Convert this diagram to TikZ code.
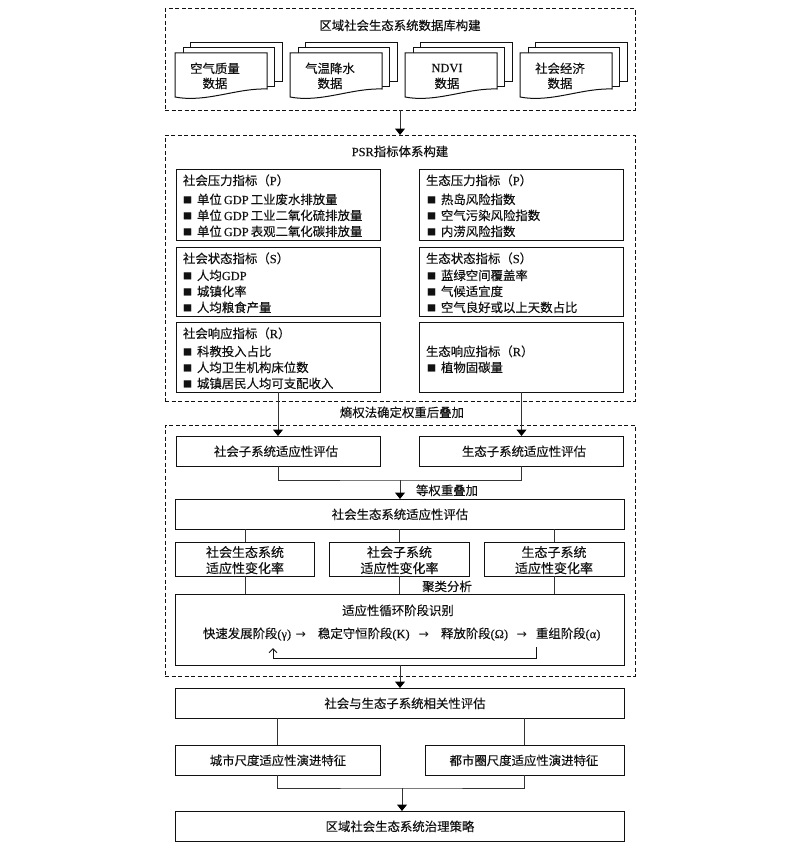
\documentclass[tikz,border=0pt]{standalone}
\usepackage{fontspec}
\setmainfont{Noto Sans CJK SC}[FakeBold=0.2]
\newfontfamily\lat{Liberation Serif}[FakeBold=0.2]
\newfontfamily\arw{DejaVu Sans}
\usetikzlibrary{arrows.meta}
\definecolor{ink}{HTML}{111111}
\definecolor{wire}{HTML}{333333}
\tikzset{
  x=1pt,y=-1pt,
  dashbox/.style={draw=ink,line width=1pt,dash pattern=on 4pt off 2.5pt,inner sep=0pt,outer sep=0pt},
  solidbox/.style={draw=ink,line width=1pt,fill=white,inner sep=0pt,outer sep=0pt},
  txt/.style={inner sep=0pt,outer sep=0pt,text=ink,text height=10.3pt,text depth=2.1pt,font=\fontsize{12.4}{14}\selectfont},
  widetxt/.style={txt,font=\fontsize{13}{14}\selectfont},
  wireline/.style={draw=wire,line width=1pt},
  wirearrow/.style={draw=wire,line width=1pt,-{Triangle[length=6.5pt,width=10pt,color=black]}},
  docpage/.style={draw=ink,line width=1pt,fill=white},
}
\newcommand{\gdp}{{\lat\,GDP\,}}
\newcommand{\sq}{\makebox[14pt][l]{\raisebox{0.8pt}{\fontsize{9}{9}\selectfont ■}}}
\newcommand{\docstack}[1]{%
  \begin{scope}[xshift=#1pt]
    \draw[docpage] (190,81) -- (190,43) -- (282,43) -- (282,81) -- cycle;
    \draw[docpage] (183,86) -- (183,48) -- (274,48) -- (274,86) -- cycle;
    \draw[docpage] (175,97) -- (175,53) -- (267,53) -- (267,89) .. controls (236,88) and (206,103) .. (175,97) -- cycle;
  \end{scope}}
\begin{document}
\begin{tikzpicture}
\fill[white] (0,0) rectangle (800,851);
\useasboundingbox (0,0) rectangle (800,851);

% --- database block
\node[dashbox,minimum width=470pt,minimum height=101pt] (db) at (400,59.5) {};
\node[txt] (dbt) at (400,26) {区域社会生态系统数据库构建};
\docstack{0}\docstack{115}\docstack{230}\docstack{345}
\node[txt] (d1a) at (215,69) {空气质量};
\node[txt] (d1b) at (215,84) {数据};
\node[txt] (d2a) at (330,69) {气温降水};
\node[txt] (d2b) at (330,84) {数据};
\node[txt] (d3a) at (447,68) {\lat NDVI};
\node[txt] (d3b) at (447,84) {数据};
\node[txt] (d4a) at (560,69) {社会经济};
\node[txt] (d4b) at (560,84) {数据};

% --- PSR block
\node[dashbox,minimum width=470pt,minimum height=266pt] (psr) at (400,268) {};
\node[txt] (psrt) at (400,152) {{\lat PSR}指标体系构建};

\node[solidbox,minimum width=204pt,minimum height=71pt] (sp) at (278,205) {};
\node[solidbox,minimum width=204pt,minimum height=71pt] (ep) at (521.5,205) {};
\node[solidbox,minimum width=204pt,minimum height=69pt] (ss) at (278,281.5) {};
\node[solidbox,minimum width=204pt,minimum height=69pt] (es) at (521.5,281.5) {};
\node[solidbox,minimum width=204pt,minimum height=70pt] (sr) at (278,357) {};
\node[solidbox,minimum width=204pt,minimum height=70pt] (er) at (521.5,357) {};

\node[txt,anchor=west] (sp0) at (183,181) {社会压力指标（{\lat P}）};
\node[txt,anchor=west] (sp1) at (183,200) {\sq 单位\gdp 工业废水排放量};
\node[txt,anchor=west] (sp2) at (183,216) {\sq 单位\gdp 工业二氧化硫排放量};
\node[txt,anchor=west] (sp3) at (183,232) {\sq 单位\gdp 表观二氧化碳排放量};

\node[txt,anchor=west] (ss0) at (183,259) {社会状态指标（{\lat S}）};
\node[txt,anchor=west] (ss1) at (183,276) {\sq 人均{\lat GDP}};
\node[txt,anchor=west] (ss2) at (183,292) {\sq 城镇化率};
\node[txt,anchor=west] (ss3) at (183,308) {\sq 人均粮食产量};

\node[txt,anchor=west] (sr0) at (183,334) {社会响应指标（{\lat R}）};
\node[txt,anchor=west] (sr1) at (183,352) {\sq 科教投入占比};
\node[txt,anchor=west] (sr2) at (183,368) {\sq 人均卫生机构床位数};
\node[txt,anchor=west] (sr3) at (183,384) {\sq 城镇居民人均可支配收入};

\node[txt,anchor=west] (ep0) at (426,181) {生态压力指标（{\lat P}）};
\node[txt,anchor=west] (ep1) at (427,200) {\sq 热岛风险指数};
\node[txt,anchor=west] (ep2) at (427,216) {\sq 空气污染风险指数};
\node[txt,anchor=west] (ep3) at (427,232) {\sq 内涝风险指数};

\node[txt,anchor=west] (es0) at (426,259) {生态状态指标（{\lat S}）};
\node[txt,anchor=west] (es1) at (427,276) {\sq 蓝绿空间覆盖率};
\node[txt,anchor=west] (es2) at (427,292) {\sq 气候适宜度};
\node[txt,anchor=west] (es3) at (427,308) {\sq 空气良好或以上天数占比};

\node[txt,anchor=west] (er0) at (426,352) {生态响应指标（{\lat R}）};
\node[txt,anchor=west] (er1) at (427,368) {\sq 植物固碳量};

% --- evaluation block
\node[txt] (w1) at (402,413) {熵权法确定权重后叠加};
\node[dashbox,minimum width=470pt,minimum height=251pt] (ev) at (400,550.5) {};
\node[solidbox,minimum width=204pt,minimum height=30pt] (sa) at (278,451) {};
\node[solidbox,minimum width=204pt,minimum height=30pt] (ea) at (521.5,451) {};
\node[txt] (sat) at (276,452) {社会子系统适应性评估};
\node[txt] (eat) at (524,452) {生态子系统适应性评估};
\coordinate (j1) at (400,480);
\node[txt] (w2) at (447,491) {等权重叠加};
\node[solidbox,minimum width=449pt,minimum height=30pt] (all) at (400,514) {};
\node[txt] (allt) at (400,515) {社会生态系统适应性评估};

\node[solidbox,minimum width=139pt,minimum height=34pt] (r1) at (245,559) {};
\node[solidbox,minimum width=140pt,minimum height=34pt] (r2) at (399.5,559) {};
\node[solidbox,minimum width=140pt,minimum height=34pt] (r3) at (554,559) {};
\node[widetxt] (r1a) at (245,553) {社会生态系统};
\node[widetxt] (r1b) at (245,569) {适应性变化率};
\node[widetxt] (r2a) at (399.5,553) {社会子系统};
\node[widetxt] (r2b) at (399.5,569) {适应性变化率};
\node[widetxt] (r3a) at (554,553) {生态子系统};
\node[widetxt] (r3b) at (554,569) {适应性变化率};

\node[txt] (w3) at (447,587) {聚类分析};
\node[solidbox,minimum width=449pt,minimum height=71pt] (cy) at (400,629.5) {};
\node[txt] (cyt) at (398,611) {适应性循环阶段识别};
\node[txt,anchor=west] (c1) at (203,634) {快速发展阶段{\lat(γ)}};
\node[txt,anchor=west] (a1) at (295.5,634) {\arw →};
\node[txt,anchor=west] (c2) at (318,634) {稳定守恒阶段{\lat(K)}};
\node[txt,anchor=west] (a2) at (418.5,634) {\arw →};
\node[txt,anchor=west] (c3) at (441,634) {释放阶段{\lat(Ω)}};
\node[txt,anchor=west] (a3) at (516.5,634) {\arw →};
\node[txt,anchor=west] (c4) at (536,634) {重组阶段{\lat(α)}};
\coordinate (ret1) at (536,647);
\coordinate (ret2) at (273,648);
\draw[draw=ink,line width=1pt,-{Straight Barb[length=4pt,width=8pt]}] (ret1) -- (536,658) -- (273,658) -- (ret2);

% --- lower stack
\node[solidbox,minimum width=449pt,minimum height=30pt] (cor) at (400,703) {};
\node[txt] (cort) at (405,704) {社会与生态子系统相关性评估};
\node[solidbox,minimum width=205pt,minimum height=30pt] (ci) at (277.5,760) {};
\node[solidbox,minimum width=199pt,minimum height=30pt] (mt) at (524.5,760) {};
\node[txt] (cit) at (278,761) {城市尺度适应性演进特征};
\node[txt] (mtt) at (524,761) {都市圈尺度适应性演进特征};
\coordinate (j2) at (402,788);
\node[solidbox,minimum width=449pt,minimum height=30pt] (gov) at (400,826) {};
\node[txt] (govt) at (400,827) {区域社会生态系统治理策略};

% --- connectors
\draw[wirearrow] (db.south) -- (psr.north);
\draw[wirearrow] (sr.south) -- (sa.north);
\draw[wirearrow] (er.south) -- (ea.north);
\draw[wireline] (sa.south) |- (j1) -| (ea.south);
\draw[wirearrow] (j1) -- (all.north);
\draw[wireline] (all.south -| r1.north) -- (r1.north);
\draw[wireline] (all.south -| r2.north) -- (r2.north);
\draw[wireline] (all.south -| r3.north) -- (r3.north);
\draw[wireline] (r1.south) -- (cy.north -| r1.south);
\draw[wireline] (r2.south) -- (cy.north -| r2.south);
\draw[wireline] (r3.south) -- (cy.north -| r3.south);
\draw[wirearrow] (cy.south) -- (cor.north);
\draw[wireline] (cor.south -| ci.north) -- (ci.north);
\draw[wireline] (cor.south -| mt.north) -- (mt.north);
\draw[wireline] (ci.south) |- (j2) -| (mt.south);
\draw[wirearrow] (j2) -- (j2 |- gov.north);
\end{tikzpicture}
\end{document}
